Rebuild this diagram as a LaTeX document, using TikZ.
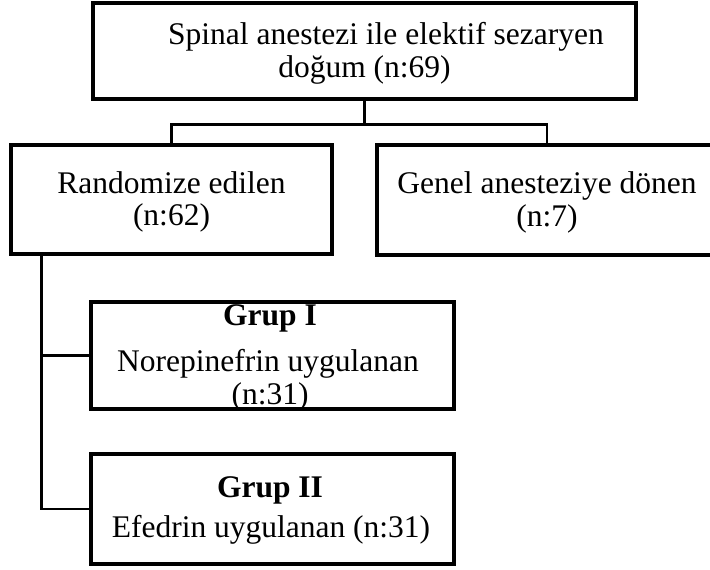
\documentclass[tikz,border=0pt]{standalone}
\usepackage{fontspec}
\setmainfont{Liberation Serif}
\begin{document}
\begin{tikzpicture}[x=1pt,y=-1pt,
  box/.style={draw=black, line width=3.2pt, rectangle, inner sep=0pt},
  conn/.style={draw=black, line width=2.4pt},
  txt/.style={inner sep=0pt, anchor=base, font=\fontsize{31.5}{34}\selectfont},
  btxt/.style={txt, font=\fontsize{31.5}{34}\selectfont\bfseries}]
\clip (0,0) rectangle (710,570);
\fill[white] (0,0) rectangle (710,570);
% boxes
\node[box, minimum width=543pt, minimum height=96pt] (top) at (364.5,51) {};
\node[box, minimum width=321pt, minimum height=109pt] (left) at (171.5,199.5) {};
\node[box, minimum width=340pt, minimum height=110pt] (right) at (547,200) {};
\node[box, minimum width=363pt, minimum height=107pt] (g1) at (272.5,355.5) {};
\node[box, minimum width=363pt, minimum height=110pt] (g2) at (272.5,509) {};
% texts
\node[txt] (t1a) at (386,45) {Spinal anestezi ile elektif sezaryen};
\node[txt] (t1b) at (364.5,77) {doğum (n:69)};
\node[txt] (t2a) at (171.5,193) {Randomize edilen};
\node[txt] (t2b) at (171.5,225) {(n:62)};
\node[txt] (t3a) at (547,193) {Genel anesteziye dönen};
\node[txt] (t3b) at (547,226) {(n:7)};
\node[btxt] (t4a) at (270,325) {Grup I};
\node[txt] (t4b) at (268,371) {Norepinefrin uygulanan};
\node[txt] (t4c) at (270,404) {(n:31)};
\node[btxt] (t5a) at (270,497) {Grup II};
\node[txt] (t5b) at (271,537) {Efedrin uygulanan (n:31)};
% connectors
\coordinate (split) at ([yshift=-24pt]top.south);
\draw[conn] (top.south) -- (split) -| (left.north);
\draw[conn] (split) -| (right.north);
\coordinate (trunk) at ([xshift=32pt]left.south west);
\draw[conn] (trunk) |- (g1.west);
\draw[conn] (trunk) |- (g2.west);
\end{tikzpicture}
\end{document}
